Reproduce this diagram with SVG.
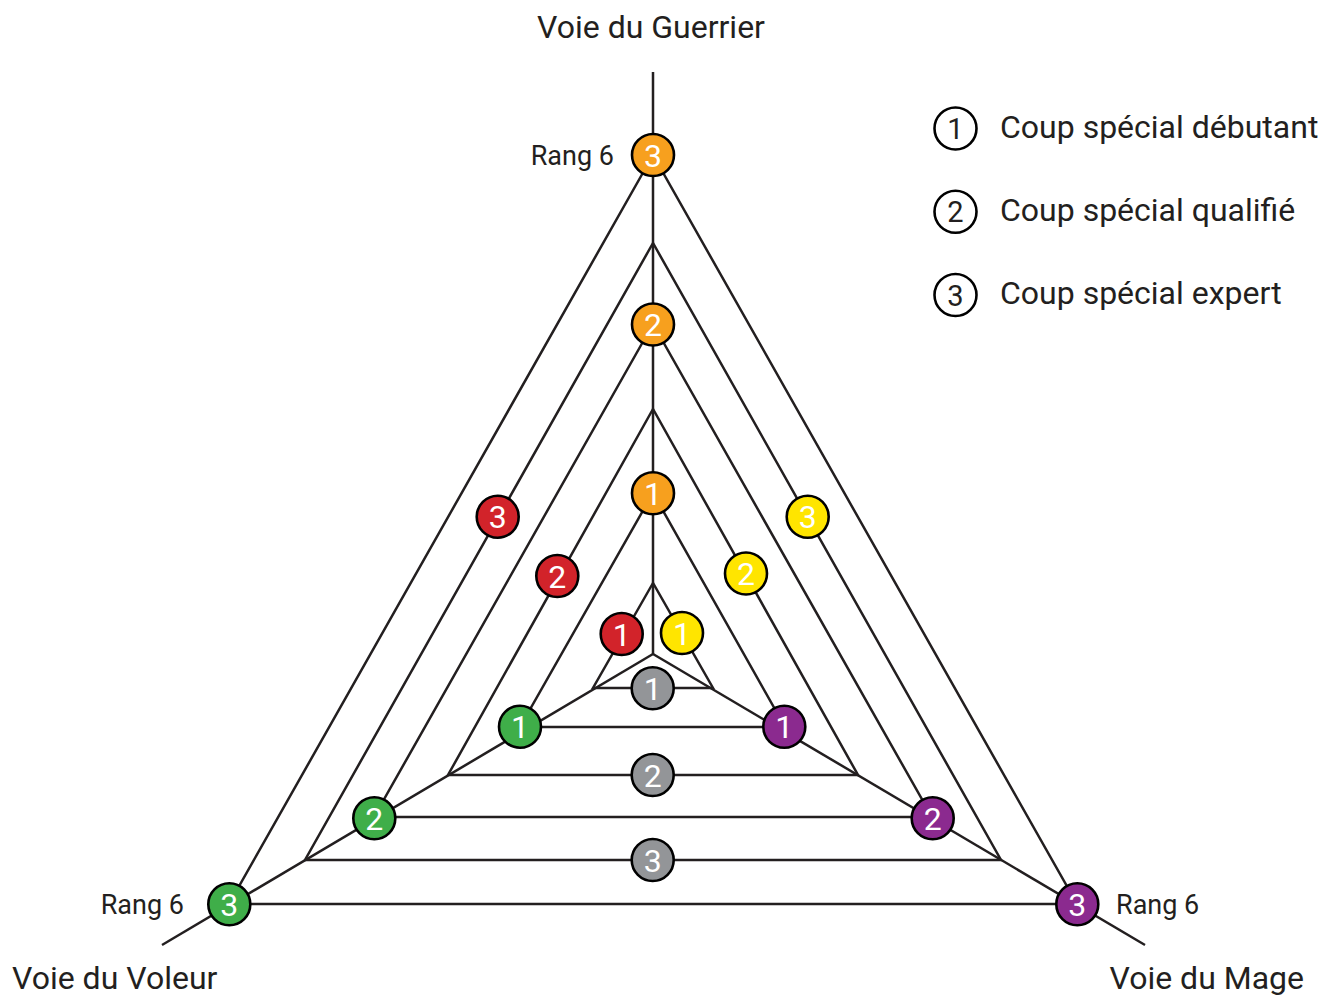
<svg xmlns="http://www.w3.org/2000/svg" width="1326" height="995" viewBox="0 0 1326 995">
<style>
  .ln{fill:none;stroke:#231F20;stroke-width:2.5;stroke-linejoin:miter}
  .nd{stroke:#000;stroke-width:2.6}
  .num{font-family:Roboto,"Liberation Sans",sans-serif;font-weight:400;font-size:32px;fill:#fff;text-anchor:middle}
  .lab{font-family:Roboto,"Liberation Sans",sans-serif;font-size:32px;fill:#231F20}
  .rang{font-family:Roboto,"Liberation Sans",sans-serif;font-size:27px;fill:#231F20}
  .leg{font-family:Roboto,"Liberation Sans",sans-serif;font-size:32px;fill:#231F20}
  .legnum{font-family:Roboto,"Liberation Sans",sans-serif;font-weight:400;font-size:29px;fill:#231F20;text-anchor:middle}
  .or{fill:#F7A01E}.rd{fill:#D2232A}.ye{fill:#FFE500}.gr{fill:#3FAE49}.pu{fill:#8B2A8F}.gy{fill:#939598}
</style>
<rect width="1326" height="995" fill="#fff"/>
<g id="connectors">
  <line class="ln" x1="653" y1="654" x2="653" y2="72"/>
  <line class="ln" x1="653" y1="654" x2="162" y2="945"/>
  <line class="ln" x1="653" y1="654" x2="1145" y2="945"/>
  <polygon class="ln" points="653,583 593,688 713,688"/>
  <polygon class="ln" points="653,493 520,727 785,727"/>
  <polygon class="ln" points="653,409 448,775 858,775"/>
  <polygon class="ln" points="653,324 374,817 932,817"/>
  <polygon class="ln" points="653,243 305,860 1001,860"/>
  <polygon class="ln" points="653,155 229,904 1077,904"/>
</g>
<g id="labels">
  <text class="lab" x="651" y="38" text-anchor="middle">Voie du Guerrier</text>
  <text class="lab" x="12" y="989">Voie du Voleur</text>
  <text class="lab" x="1304" y="989" text-anchor="end">Voie du Mage</text>
  <text class="rang" x="614" y="165" text-anchor="end">Rang 6</text>
  <text class="rang" x="184" y="914" text-anchor="end">Rang 6</text>
  <text class="rang" x="1116" y="914">Rang 6</text>
</g>
<g id="node-guerrier-3"><circle class="nd or" cx="653" cy="155" r="21"/><text class="num" x="653" y="166.5">3</text></g>
<g id="node-guerrier-2"><circle class="nd or" cx="653" cy="324.5" r="21"/><text class="num" x="653" y="336">2</text></g>
<g id="node-guerrier-1"><circle class="nd or" cx="653" cy="493.3" r="21"/><text class="num" x="653" y="504.8">1</text></g>
<g id="node-rouge-3"><circle class="nd rd" cx="497.7" cy="516.7" r="21"/><text class="num" x="497.7" y="528.2">3</text></g>
<g id="node-rouge-2"><circle class="nd rd" cx="557.3" cy="576" r="21"/><text class="num" x="557.3" y="587.5">2</text></g>
<g id="node-rouge-1"><circle class="nd rd" cx="621.7" cy="634" r="21"/><text class="num" x="621.7" y="645.5">1</text></g>
<g id="node-jaune-3"><circle class="nd ye" cx="807.7" cy="516.7" r="21"/><text class="num" x="807.7" y="528.2">3</text></g>
<g id="node-jaune-2"><circle class="nd ye" cx="746" cy="573.5" r="21"/><text class="num" x="746" y="585">2</text></g>
<g id="node-jaune-1"><circle class="nd ye" cx="682" cy="633" r="21"/><text class="num" x="682" y="644.5">1</text></g>
<g id="node-gris-1"><circle class="nd gy" cx="652.7" cy="688.3" r="21"/><text class="num" x="652.7" y="699.8">1</text></g>
<g id="node-gris-2"><circle class="nd gy" cx="652.7" cy="775" r="21"/><text class="num" x="652.7" y="786.5">2</text></g>
<g id="node-gris-3"><circle class="nd gy" cx="652.7" cy="860" r="21"/><text class="num" x="652.7" y="871.5">3</text></g>
<g id="node-voleur-1"><circle class="nd gr" cx="520" cy="726.7" r="21"/><text class="num" x="520" y="738.2">1</text></g>
<g id="node-voleur-2"><circle class="nd gr" cx="374.3" cy="818.3" r="21"/><text class="num" x="374.3" y="829.8">2</text></g>
<g id="node-voleur-3"><circle class="nd gr" cx="229.3" cy="904.3" r="21"/><text class="num" x="229.3" y="915.8">3</text></g>
<g id="node-mage-1"><circle class="nd pu" cx="784.3" cy="726.7" r="21"/><text class="num" x="784.3" y="738.2">1</text></g>
<g id="node-mage-2"><circle class="nd pu" cx="932.7" cy="818.3" r="21"/><text class="num" x="932.7" y="829.8">2</text></g>
<g id="node-mage-3"><circle class="nd pu" cx="1077.3" cy="904.3" r="21"/><text class="num" x="1077.3" y="915.8">3</text></g>
<g id="legend">
  <g id="legend-1"><circle cx="955.5" cy="128.5" r="21" fill="#fff" stroke="#000" stroke-width="2.6"/><text class="legnum" x="955.5" y="139">1</text><text class="leg" x="1000" y="138">Coup spécial débutant</text></g>
  <g id="legend-2"><circle cx="955.5" cy="211.7" r="21" fill="#fff" stroke="#000" stroke-width="2.6"/><text class="legnum" x="955.5" y="222">2</text><text class="leg" x="1000" y="221">Coup spécial qualifié</text></g>
  <g id="legend-3"><circle cx="955.5" cy="295" r="21" fill="#fff" stroke="#000" stroke-width="2.6"/><text class="legnum" x="955.5" y="305.5">3</text><text class="leg" x="1000" y="304">Coup spécial expert</text></g>
</g>
</svg>
